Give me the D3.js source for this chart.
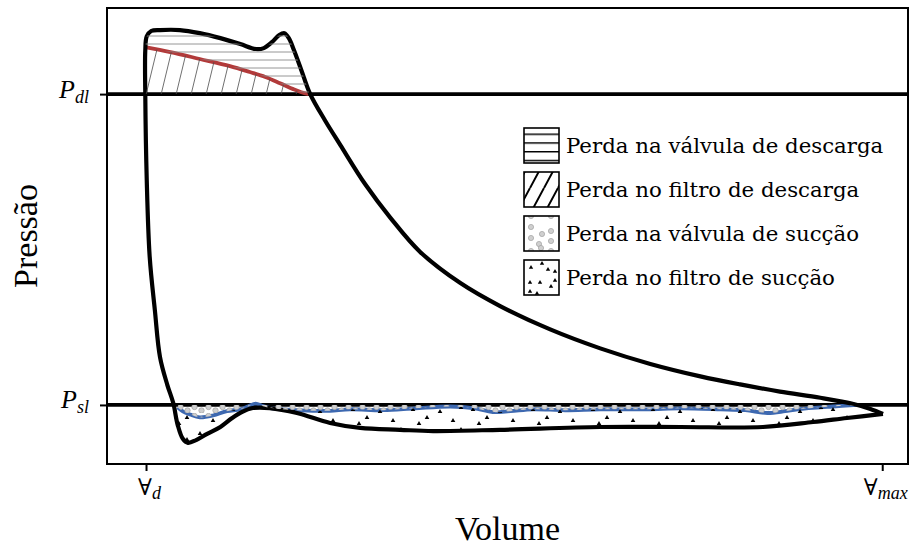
<!DOCTYPE html>
<html>
<head>
<meta charset="utf-8">
<script src="https://cdn.jsdelivr.net/npm/d3@7"></script>
<style>
  body { margin: 0; background: #fff; }
  svg { display: block; }
</style>
</head>
<body>
<svg id="chart" width="911" height="547"></svg>
<script>
// volume: 0 = clearance volume, 1 = max volume ; pressure: 0 = P_sl, 1 = P_dl
// closed indicated cycle (starts at the right tip, compression -> discharge -> expansion -> suction)
const cycleVol = [1.001, 0.984, 0.961, 0.916, 0.861, 0.807, 0.753, 0.685, 0.617, 0.549, 0.481, 0.427, 0.372, 0.332, 0.298, 0.264, 0.243, 0.223, 0.211, 0.201, 0.194, 0.188, 0.181, 0.171, 0.160, 0.149, 0.128, 0.101, 0.073, 0.046, 0.019, 0.007, 0.001, -0.001, -0.001, 0.001, 0.005, 0.012, 0.019, 0.029, 0.037, 0.043, 0.050, 0.057, 0.068, 0.083, 0.101, 0.117, 0.130, 0.145, 0.168, 0.205, 0.250, 0.291, 0.345, 0.390, 0.481, 0.617, 0.726, 0.838, 0.906, 0.952, 1.001];
const cyclePres = [-0.029, -0.013, 0.003, 0.023, 0.043, 0.066, 0.092, 0.132, 0.182, 0.243, 0.318, 0.392, 0.493, 0.602, 0.709, 0.836, 0.916, 1.000, 1.077, 1.141, 1.180, 1.196, 1.190, 1.167, 1.148, 1.145, 1.161, 1.180, 1.196, 1.206, 1.206, 1.203, 1.186, 1.141, 1.000, 0.723, 0.476, 0.305, 0.154, 0.064, 0.006, -0.064, -0.109, -0.122, -0.113, -0.093, -0.071, -0.042, -0.023, -0.010, -0.010, -0.026, -0.058, -0.074, -0.080, -0.084, -0.080, -0.071, -0.071, -0.071, -0.055, -0.042, -0.029];

// pressure after the discharge valve (red)
const dischVol = [-0.001, 0.033, 0.073, 0.114, 0.141, 0.162, 0.182, 0.200, 0.211, 0.221];
const dischPres = [1.151, 1.135, 1.113, 1.090, 1.071, 1.055, 1.035, 1.016, 1.006, 1.000];

// pressure before the suction valve (blue)
const suctVol = [0.043, 0.050, 0.060, 0.073, 0.091, 0.110, 0.128, 0.139, 0.149, 0.159, 0.171, 0.196, 0.227, 0.250, 0.277, 0.322, 0.365, 0.413, 0.447, 0.471, 0.495, 0.526, 0.569, 0.617, 0.681, 0.726, 0.780, 0.814, 0.844, 0.868, 0.885, 0.933, 0.966];
const suctPres = [-0.008, -0.021, -0.031, -0.040, -0.034, -0.020, -0.014, -0.004, 0.004, -0.004, -0.011, -0.016, -0.019, -0.019, -0.014, -0.017, -0.011, -0.005, -0.011, -0.023, -0.020, -0.014, -0.017, -0.014, -0.014, -0.011, -0.014, -0.017, -0.026, -0.020, -0.014, -0.005, 0.000];

const xTickVals = [0, 1];
const xTickSubs = ["d", "max"];
const yTickVals = [1, 0];
const yTickSubs = ["dl", "sl"];

const legendLabels = ["Perda na válvula de descarga", "Perda no filtro de descarga", "Perda na válvula de sucção", "Perda no filtro de sucção"];

const margin = {top: 8, right: 3, bottom: 83, left: 107};
const svg = d3.select("#chart");
const width = 911 - margin.left - margin.right;
const height = 547 - margin.top - margin.bottom;

const x = d3.scaleLinear().domain([-0.053, 1.035]).range([0, width]);
const y = d3.scaleLinear().domain([-0.19, 1.277]).range([height, 0]);

const defs = svg.append("defs");

// ---- hatch patterns used inside the plot
let p = defs.append("pattern").attr("id", "hatchH").attr("patternUnits", "userSpaceOnUse")
  .attr("width", 10).attr("height", 8);
p.append("line").attr("x1", 0).attr("x2", 10).attr("y1", 4).attr("y2", 4)
  .attr("stroke", "#8a8a8a").attr("stroke-width", 0.9);

p = defs.append("pattern").attr("id", "hatchD").attr("patternUnits", "userSpaceOnUse")
  .attr("width", 15).attr("height", 62);
p.append("path").attr("d", "M-15,62L0,0M0,62L15,0M15,62L30,0")
  .attr("stroke", "#4a4a4a").attr("stroke-width", 0.8);

p = defs.append("pattern").attr("id", "dots").attr("patternUnits", "userSpaceOnUse")
  .attr("width", 14).attr("height", 9);
[[3.5, 3], [10.5, 6.5]].forEach(d => {
  p.append("circle").attr("cx", d[0]).attr("cy", d[1]).attr("r", 2.7)
    .attr("fill", "#cfcfcf").attr("stroke", "#a0a0a0").attr("stroke-width", 0.7);
});

p = defs.append("pattern").attr("id", "tris").attr("patternUnits", "userSpaceOnUse")
  .attr("width", 60).attr("height", 22);
[[6, 5], [20, 13], [33, 7], [46, 16], [54, 3], [12, 19]].forEach(d => {
  p.append("path").attr("d", `M${d[0]-2.3},${d[1]+1.9}L${d[0]+2.3},${d[1]+1.9}L${d[0]},${d[1]-2.1}Z`).attr("fill", "#000");
});

const g = svg.append("g").attr("transform", `translate(${margin.left},${margin.top})`);

const line = d3.line().x((d) => x(d[0])).y((d) => y(d[1])).curve(d3.curveCatmullRom);
const cycle = cycleVol.map((v, i) => [v, cyclePres[i]]);
const disch = dischVol.map((v, i) => [v, dischPres[i]]);
const suct = suctVol.map((v, i) => [v, suctPres[i]]);

defs.append("clipPath").attr("id", "cycleClip")
  .append("path").attr("d", line(cycle)).attr("transform", `translate(${margin.left},${margin.top})`);
defs.append("clipPath").attr("id", "belowSl")
  .append("rect").attr("x", margin.left).attr("y", margin.top + y(0)).attr("width", width).attr("height", height - y(0));

const area = (base) => d3.area().x((d) => x(d[0])).y0(y(base)).y1((d) => y(d[1])).curve(d3.curveCatmullRom);

const fills = svg.append("g").attr("clip-path", "url(#cycleClip)")
  .append("g").attr("transform", `translate(${margin.left},${margin.top})`);
fills.append("path").attr("d", area(1.277)(disch)).attr("fill", "url(#hatchH)");
fills.append("path").attr("d", area(1)(disch)).attr("fill", "url(#hatchD)");
fills.append("path").attr("d", area(-0.19)(suct)).attr("fill", "url(#tris)");
svg.append("g").attr("clip-path", "url(#belowSl)")
  .append("g").attr("clip-path", "url(#cycleClip)")
  .append("g").attr("transform", `translate(${margin.left},${margin.top})`)
  .append("path").attr("d", area(0)(suct)).attr("fill", "url(#dots)");

// reference pressure lines
yTickVals.forEach(v => {
  g.append("line").attr("x1", 0).attr("x2", width).attr("y1", y(v)).attr("y2", y(v))
    .attr("stroke", "#000").attr("stroke-width", 3.8);
});

g.append("path").datum(disch).attr("d", line).attr("fill", "none")
  .attr("stroke", "#b23a3a").attr("stroke-width", 3.8);
g.append("path").datum(suct).attr("d", line).attr("fill", "none")
  .attr("stroke", "#3d68b0").attr("stroke-width", 3.8);
g.append("path").datum(cycle).attr("d", line).attr("fill", "none")
  .attr("stroke", "#000").attr("stroke-width", 4.2).attr("stroke-linejoin", "round");

// axes
const xAxis = g.append("g").attr("transform", `translate(0,${height})`)
  .call(d3.axisBottom(x).tickValues(xTickVals).tickSize(7).tickFormat(""));
const yAxis = g.append("g")
  .call(d3.axisLeft(y).tickValues(yTickVals).tickSize(7).tickFormat(""));
[xAxis, yAxis].forEach(a => {
  a.select(".domain").remove();
  a.selectAll(".tick line").attr("stroke-width", 2);
});

xAxis.selectAll(".tick").append("text")
  .attr("y", 31).attr("x", 3).attr("text-anchor", "middle").attr("fill", "#000")
  .each(function(d, i) {
    const t = d3.select(this);
    t.append("tspan").attr("font-family", "DejaVu Serif").attr("font-size", 23).text("∀");
    t.append("tspan").attr("font-family", "Liberation Serif").attr("font-style", "italic")
      .attr("font-size", 18).attr("dy", 4).text(xTickSubs[i]);
  });

yAxis.selectAll(".tick").append("text")
  .attr("x", -18).attr("y", 3).attr("text-anchor", "end").attr("fill", "#000")
  .each(function(d, i) {
    const t = d3.select(this);
    t.append("tspan").attr("font-family", "Liberation Serif").attr("font-style", "italic")
      .attr("font-size", 26).text("P");
    t.append("tspan").attr("font-family", "Liberation Serif").attr("font-style", "italic")
      .attr("font-size", 18).attr("dy", 5).text(yTickSubs[i]);
  });

g.append("rect").attr("width", width).attr("height", height)
  .attr("fill", "none").attr("stroke", "#000").attr("stroke-width", 2);

// axis titles
svg.append("text").attr("x", margin.left + width / 2).attr("y", 540)
  .attr("text-anchor", "middle").attr("font-family", "Liberation Serif").attr("font-size", 34)
  .text("Volume");
svg.append("text").attr("transform", `translate(37,${margin.top + height / 2}) rotate(-90)`)
  .attr("text-anchor", "middle").attr("font-family", "Liberation Serif").attr("font-size", 34)
  .text("Pressão");

// ---- legend
const lg = svg.append("g").attr("transform", "translate(524,128)");
const rowH = 44, boxW = 35, boxH = 35;

function legendPattern(id, i) {
  const pt = defs.append("pattern").attr("id", id).attr("patternUnits", "userSpaceOnUse")
    .attr("x", 524).attr("y", 128 + i * rowH);
  return pt;
}
let lp = legendPattern("lgH", 0).attr("width", boxW).attr("height", boxH / 4);
lp.append("line").attr("x1", 0).attr("x2", boxW).attr("y1", 0).attr("y2", 0)
  .attr("stroke", "#000").attr("stroke-width", 3);
lp = legendPattern("lgD", 1).attr("width", 14).attr("height", 26);
lp.append("path").attr("d", "M-14,26L0,0M0,26L14,0M14,26L28,0").attr("stroke", "#000").attr("stroke-width", 2);
lp = legendPattern("lgO", 2).attr("width", boxW).attr("height", boxH);
[[8, 5], [19, 12], [28, 9], [8, 16], [16, 22], [28, 19], [8, 29], [18, 26], [28, 29]].forEach(d => {
  lp.append("circle").attr("cx", d[0]).attr("cy", d[1]).attr("r", 2.6)
    .attr("fill", "#cfcfcf").attr("stroke", "#a0a0a0").attr("stroke-width", 0.7);
});
lp = legendPattern("lgT", 3).attr("width", boxW).attr("height", boxH);
[[7, 7], [17, 7], [32, 5], [7, 16], [14, 18], [28, 11], [8, 27], [19, 23], [25, 29], [32, 31]].forEach(d => {
  lp.append("path").attr("d", `M${d[0]-2.2},${d[1]+1.8}L${d[0]+2.2},${d[1]+1.8}L${d[0]},${d[1]-2}Z`).attr("fill", "#000");
});

const legendFills = ["url(#lgH)", "url(#lgD)", "url(#lgO)", "url(#lgT)"];
legendLabels.forEach((lab, i) => {
  const row = lg.append("g").attr("transform", `translate(0,${i * rowH})`);
  row.append("rect").attr("width", boxW).attr("height", boxH).attr("fill", "#fff");
  row.append("rect").attr("width", boxW).attr("height", boxH)
    .attr("fill", legendFills[i]).attr("stroke", "#000").attr("stroke-width", 1.6);
  row.append("text").attr("x", 42).attr("y", boxH / 2 + 7)
    .attr("font-family", "DejaVu Serif").attr("font-size", 21.3).text(lab);
});
</script>
</body>
</html>
